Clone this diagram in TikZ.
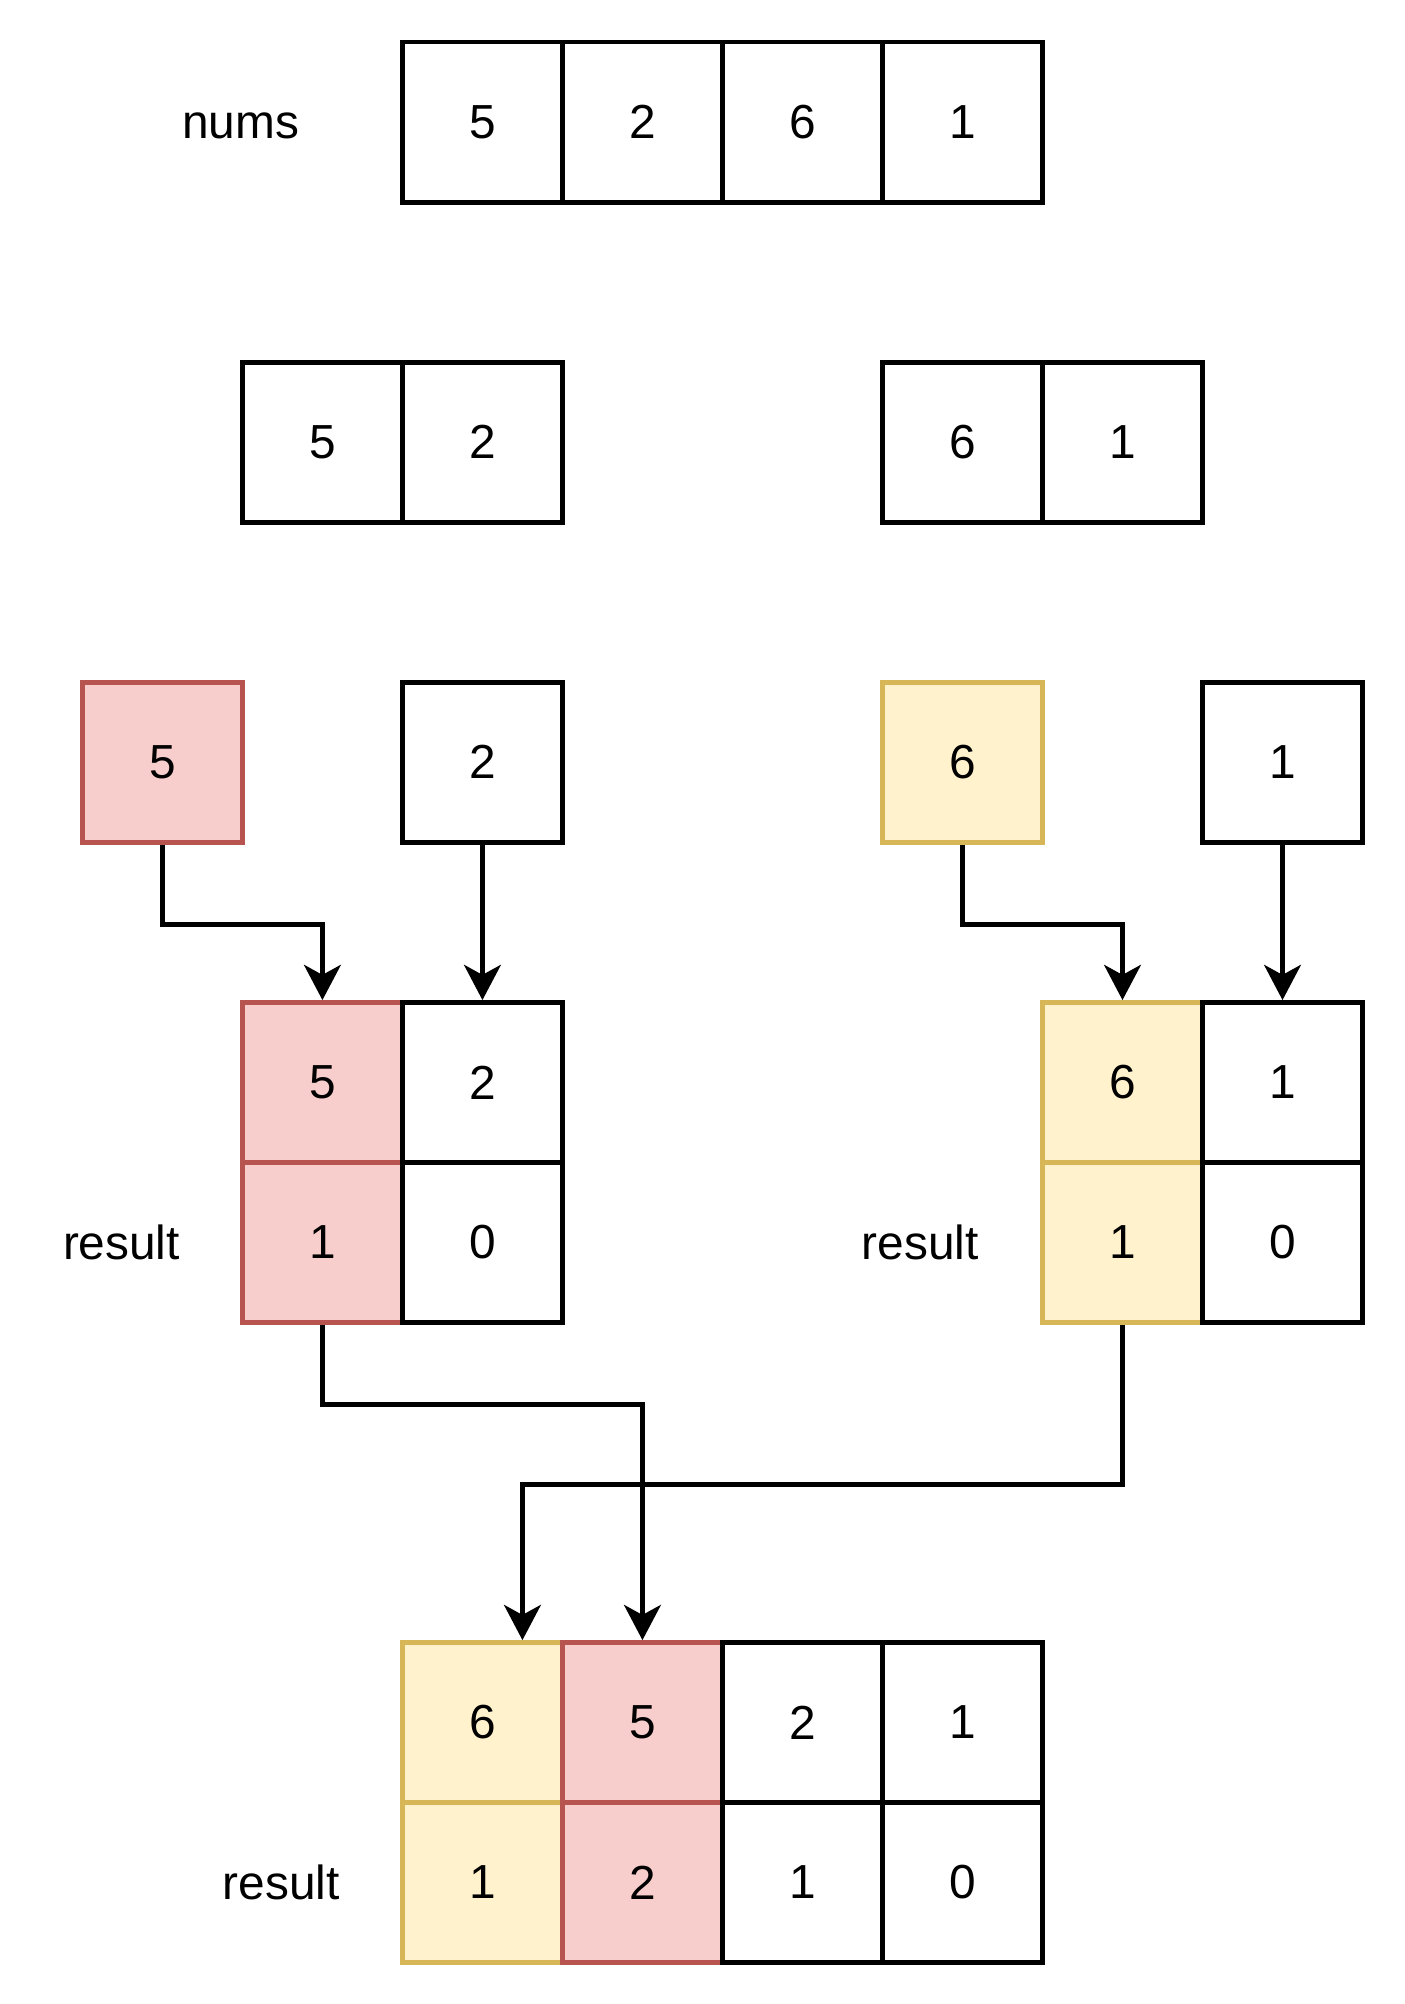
\documentclass[tikz,border=0pt]{standalone}
\usepackage{fontspec}
\setmainfont{Liberation Sans}
\usetikzlibrary{arrows.meta}
\definecolor{redfill}{HTML}{F8CECC}
\definecolor{redline}{HTML}{B85450}
\definecolor{yelfill}{HTML}{FFF2CC}
\definecolor{yelline}{HTML}{D6B656}
\tikzset{
  cell/.style={draw=black, fill=white, line width=1.6pt, minimum size=2cm, inner sep=0pt, font=\fontsize{17}{19}\selectfont},
  redcell/.style={cell, draw=redline, fill=redfill},
  yelcell/.style={cell, draw=yelline, fill=yelfill},
  lbl/.style={font=\fontsize{17}{19}\selectfont, inner sep=0pt},
  arr/.style={line width=1.6pt, -{Stealth[length=0.44cm, width=0.46cm, inset=0.125cm]}}
}
\begin{document}
\begin{tikzpicture}[x=2cm, y=-2cm]
\useasboundingbox (-0.515,-0.264) rectangle (8.263,12.26);
% nums row
\node[lbl] (numslbl) at (0.99,0.52) {nums};
\node[cell] (n0) at (2.5,0.5) {5};
\node[cell] (n1) at (3.5,0.5) {2};
\node[cell] (n2) at (4.5,0.5) {6};
\node[cell] (n3) at (5.5,0.5) {1};
% halves
\node[cell] (h0) at (1.5,2.5) {5};
\node[cell] (h1) at (2.5,2.5) {2};
\node[cell] (h2) at (5.5,2.5) {6};
\node[cell] (h3) at (6.5,2.5) {1};
% singles
\node[redcell] (s0) at (0.5,4.5) {5};
\node[cell] (s1) at (2.5,4.5) {2};
\node[yelcell] (s2) at (5.5,4.5) {6};
\node[cell] (s3) at (7.5,4.5) {1};
% left result
\node[lbl] (lres) at (0.244,7.5) {result};
\node[redcell] (L00) at (1.5,6.5) {5};
\node[redcell] (L10) at (1.5,7.5) {1};
\node[cell] (L01) at (2.5,6.5) {2};
\node[cell] (L11) at (2.5,7.5) {0};
% right result
\node[lbl] (rres) at (5.236,7.5) {result};
\node[yelcell] (R00) at (6.5,6.5) {6};
\node[yelcell] (R10) at (6.5,7.5) {1};
\node[cell] (R01) at (7.5,6.5) {1};
\node[cell] (R11) at (7.5,7.5) {0};
% bottom result
\node[lbl] (bres) at (1.242,11.5) {result};
\node[yelcell] (B00) at (2.5,10.5) {6};
\node[yelcell] (B10) at (2.5,11.5) {1};
\node[redcell] (B01) at (3.5,10.5) {5};
\node[redcell] (B11) at (3.5,11.5) {2};
\node[cell] (B02) at (4.5,10.5) {2};
\node[cell] (B12) at (4.5,11.5) {1};
\node[cell] (B03) at (5.5,10.5) {1};
\node[cell] (B13) at (5.5,11.5) {0};
% arrows
\draw[arr] (s0.south) -- ++(0,0.5) -| (L00.north);
\draw[arr] (s1.south) -- (L01.north);
\draw[arr] (s2.south) -- ++(0,0.5) -| (R00.north);
\draw[arr] (s3.south) -- (R01.north);
\draw[arr] (L10.south) -- ++(0,0.5) -| (B01.north);
\draw[arr] (R10.south) -- ++(0,1) -| ([xshift=0.5cm]B00.north);
\end{tikzpicture}
\end{document}
